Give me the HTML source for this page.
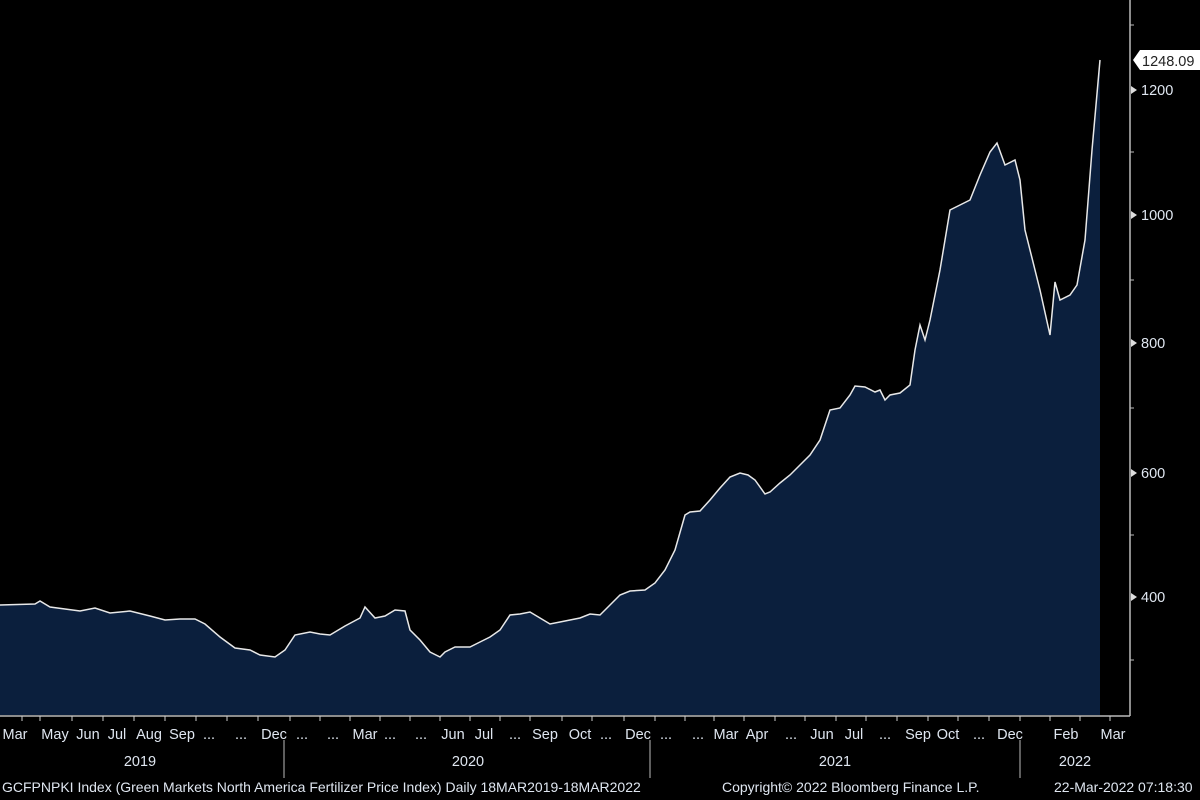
<!DOCTYPE html>
<html><head><meta charset="utf-8"><style>
html,body{margin:0;padding:0;background:#000;}
svg{display:block}
text{font-family:"Liberation Sans Narrow","Liberation Sans",sans-serif;font-size:14.5px;}
</style></head><body>
<svg width="1200" height="800" viewBox="0 0 1200 800">
<rect width="1200" height="800" fill="#000"/>
<polygon fill="#0b1f3d" points="0,715 0,605 35,604 40,601 50,607 65,609 80,611 95,608 110,613 130,611 150,616 165,620 180,619 195,619 205,624 220,637 235,648 250,650 260,655 275,657 285,650 295,635 310,632 320,634 330,635 345,626 360,618 365,607 375,618 385,616 395,610 405,611 410,630 420,640 430,652 440,657 445,652 455,647 470,647 480,642 490,637 500,630 510,615 520,614 530,612 540,618 550,624 560,622 570,620 580,618 590,614 600,615 610,605 620,595 630,591 645,590 655,583 665,570 675,550 685,515 690,512 700,511 710,500 720,488 730,477 740,473 748,475 755,480 765,494 770,492 780,483 790,475 800,465 810,455 820,440 830,410 840,408 850,395 855,386 865,387 875,392 880,390 885,400 890,395 900,393 910,385 915,350 920,325 925,340 930,320 940,270 950,210 960,205 970,200 980,175 990,152 997,143 1005,165 1015,160 1020,180 1025,230 1040,290 1050,335 1055,282 1060,300 1070,295 1077,285 1085,240 1092,150 1100,60 1100,715"/>
<polyline fill="none" stroke="#e8e8e8" stroke-width="1.5" points="0,605 35,604 40,601 50,607 65,609 80,611 95,608 110,613 130,611 150,616 165,620 180,619 195,619 205,624 220,637 235,648 250,650 260,655 275,657 285,650 295,635 310,632 320,634 330,635 345,626 360,618 365,607 375,618 385,616 395,610 405,611 410,630 420,640 430,652 440,657 445,652 455,647 470,647 480,642 490,637 500,630 510,615 520,614 530,612 540,618 550,624 560,622 570,620 580,618 590,614 600,615 610,605 620,595 630,591 645,590 655,583 665,570 675,550 685,515 690,512 700,511 710,500 720,488 730,477 740,473 748,475 755,480 765,494 770,492 780,483 790,475 800,465 810,455 820,440 830,410 840,408 850,395 855,386 865,387 875,392 880,390 885,400 890,395 900,393 910,385 915,350 920,325 925,340 930,320 940,270 950,210 960,205 970,200 980,175 990,152 997,143 1005,165 1015,160 1020,180 1025,230 1040,290 1050,335 1055,282 1060,300 1070,295 1077,285 1085,240 1092,150 1100,60"/>
<g stroke="#bbb" stroke-width="1.5">
<line x1="1130" y1="0" x2="1130" y2="716"/>
<line x1="0" y1="716" x2="1130" y2="716"/>
</g>
<g stroke="#bbb" stroke-width="1">
<line x1="1130" y1="25" x2="1134" y2="25"/><line x1="1130" y1="152" x2="1134" y2="152"/>
<line x1="1130" y1="280" x2="1134" y2="280"/><line x1="1130" y1="408" x2="1134" y2="408"/>
<line x1="1130" y1="535" x2="1134" y2="535"/><line x1="1130" y1="660" x2="1134" y2="660"/>
<line x1="284" y1="740" x2="284" y2="778"/><line x1="650" y1="740" x2="650" y2="778"/><line x1="1020" y1="740" x2="1020" y2="778"/>
</g>
<g fill="#ddd">
<polygon points="1137,90 1131,86 1131,94"/><polygon points="1137,215 1131,211 1131,219"/>
<polygon points="1137,343 1131,339 1131,347"/><polygon points="1137,473 1131,469 1131,477"/>
<polygon points="1137,597 1131,593 1131,601"/>
</g>
<g stroke="#ccc" stroke-width="1">
<line x1="22" y1="716" x2="22" y2="721"/><line x1="40" y1="716" x2="40" y2="721"/><line x1="72" y1="716" x2="72" y2="721"/><line x1="103" y1="716" x2="103" y2="721"/><line x1="134" y1="716" x2="134" y2="721"/><line x1="165" y1="716" x2="165" y2="721"/><line x1="196" y1="716" x2="196" y2="721"/><line x1="227" y1="716" x2="227" y2="721"/><line x1="258" y1="716" x2="258" y2="721"/><line x1="290" y1="716" x2="290" y2="721"/><line x1="320" y1="716" x2="320" y2="721"/><line x1="350" y1="716" x2="350" y2="721"/><line x1="380" y1="716" x2="380" y2="721"/><line x1="410" y1="716" x2="410" y2="721"/><line x1="440" y1="716" x2="440" y2="721"/><line x1="470" y1="716" x2="470" y2="721"/><line x1="500" y1="716" x2="500" y2="721"/><line x1="530" y1="716" x2="530" y2="721"/><line x1="562" y1="716" x2="562" y2="721"/><line x1="592" y1="716" x2="592" y2="721"/><line x1="624" y1="716" x2="624" y2="721"/><line x1="655" y1="716" x2="655" y2="721"/><line x1="685" y1="716" x2="685" y2="721"/><line x1="714" y1="716" x2="714" y2="721"/><line x1="744" y1="716" x2="744" y2="721"/><line x1="775" y1="716" x2="775" y2="721"/><line x1="805" y1="716" x2="805" y2="721"/><line x1="836" y1="716" x2="836" y2="721"/><line x1="866" y1="716" x2="866" y2="721"/><line x1="897" y1="716" x2="897" y2="721"/><line x1="928" y1="716" x2="928" y2="721"/><line x1="958" y1="716" x2="958" y2="721"/><line x1="989" y1="716" x2="989" y2="721"/><line x1="1020" y1="716" x2="1020" y2="721"/><line x1="1050" y1="716" x2="1050" y2="721"/><line x1="1080" y1="716" x2="1080" y2="721"/><line x1="1110" y1="716" x2="1110" y2="721"/>
</g>
<g fill="#dfe6f0" text-anchor="start">
<text x="1141" y="95">1200</text><text x="1141" y="220">1000</text><text x="1141" y="348">800</text><text x="1141" y="478">600</text><text x="1141" y="602">400</text>
</g>
<path d="M1133,60 L1140,50 L1200,50 L1200,70 L1140,70 Z" fill="#fff"/>
<text x="1142" y="66" fill="#222">1248.09</text>
<g fill="#dfe6f0" text-anchor="middle">
<text x="15" y="739">Mar</text><text x="55" y="739">May</text><text x="88" y="739">Jun</text><text x="117" y="739">Jul</text><text x="149" y="739">Aug</text><text x="182" y="739">Sep</text><text x="209" y="739">...</text><text x="241" y="739">...</text><text x="274" y="739">Dec</text><text x="302" y="739">...</text><text x="333" y="739">...</text><text x="365" y="739">Mar</text><text x="390" y="739">...</text><text x="421" y="739">...</text><text x="453" y="739">Jun</text><text x="484" y="739">Jul</text><text x="515" y="739">...</text><text x="545" y="739">Sep</text><text x="580" y="739">Oct</text><text x="606" y="739">...</text><text x="638" y="739">Dec</text><text x="666" y="739">...</text><text x="698" y="739">...</text><text x="726" y="739">Mar</text><text x="757" y="739">Apr</text><text x="791" y="739">...</text><text x="822" y="739">Jun</text><text x="854" y="739">Jul</text><text x="885" y="739">...</text><text x="918" y="739">Sep</text><text x="948" y="739">Oct</text><text x="979" y="739">...</text><text x="1010" y="739">Dec</text><text x="1066" y="739">Feb</text><text x="1113" y="739">Mar</text>
<text x="140" y="766">2019</text><text x="468" y="766">2020</text><text x="835" y="766">2021</text><text x="1075" y="766">2022</text>
</g>
<g fill="#dfe6f0">
<text x="2" y="792" style="font-size:14px">GCFPNPKI Index (Green Markets North America Fertilizer Price Index)  Daily 18MAR2019-18MAR2022</text>
<text x="722" y="792" style="font-size:14px">Copyright© 2022 Bloomberg Finance L.P.</text>
<text x="1054" y="792" style="font-size:14px">22-Mar-2022 07:18:30</text>
</g>
</svg>
</body></html>
